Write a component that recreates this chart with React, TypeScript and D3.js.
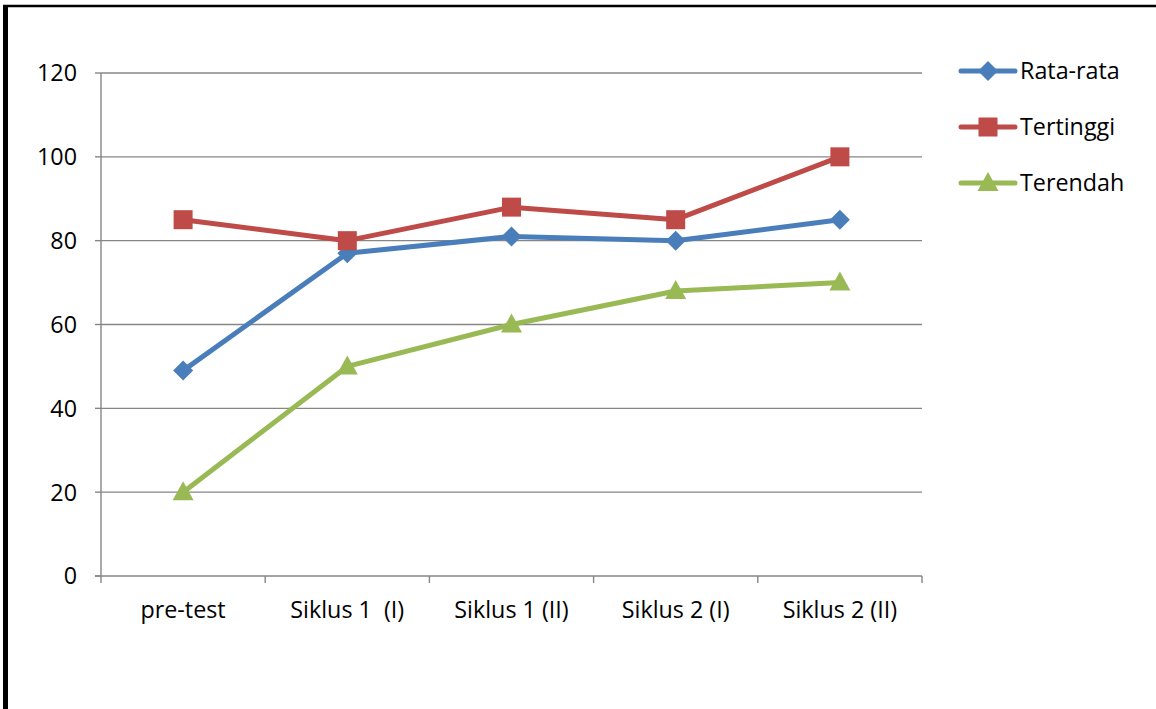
import * as d3 from 'd3';
import { useEffect, useRef } from 'react';

const categories = ['pre-test', 'Siklus 1  (I)', 'Siklus 1 (II)', 'Siklus 2 (I)', 'Siklus 2 (II)'];
const rataRata = [49, 77, 81, 80, 85];
const tertinggi = [85, 80, 88, 85, 100];
const terendah = [20, 50, 60, 68, 70];
const yTicks = [0, 20, 40, 60, 80, 100, 120];

const series = [
  { name: 'Rata-rata', values: rataRata, color: '#4A7EBB', marker: 'diamond' },
  { name: 'Tertinggi', values: tertinggi, color: '#BE4B48', marker: 'square' },
  { name: 'Terendah', values: terendah, color: '#98B954', marker: 'triangle' },
];

const W = 1156;
const H = 709;
const FONT = '"Open Sans", sans-serif';
const FS = 23.3;

function drawMarker(g: d3.Selection<SVGGElement, unknown, null, undefined>, kind: string, x: number, y: number, color: string) {
  if (kind === 'diamond') {
    g.append('path')
      .attr('d', `M${x},${y - 10}L${x + 10},${y}L${x},${y + 10}L${x - 10},${y}Z`)
      .attr('fill', color);
  } else if (kind === 'square') {
    g.append('rect')
      .attr('x', x - 9.5)
      .attr('y', y - 9.5)
      .attr('width', 19)
      .attr('height', 19)
      .attr('fill', color);
  } else {
    g.append('path')
      .attr('d', `M${x},${y - 11}L${x + 10.5},${y + 8}L${x - 10.5},${y + 8}Z`)
      .attr('fill', color);
  }
}

export default function App() {
  const svgRef = useRef<SVGSVGElement>(null);

  useEffect(() => {
    if (!svgRef.current) return;
    const svg = d3.select(svgRef.current);
    svg.selectAll('*').remove();

    const plot = { left: 101, right: 922, top: 73, bottom: 576 };

    const x = d3
      .scaleBand<string>()
      .domain(categories)
      .range([plot.left, plot.right]);
    const y = d3.scaleLinear().domain([0, 120]).range([plot.bottom, plot.top]);

    // frame (top and left edges only)
    svg.append('line')
      .attr('x1', 3).attr('x2', W).attr('y1', 6).attr('y2', 6)
      .attr('stroke', '#000').attr('stroke-width', 2.5);
    svg.append('line')
      .attr('x1', 5.5).attr('x2', 5.5).attr('y1', 5).attr('y2', H)
      .attr('stroke', '#000').attr('stroke-width', 5);

    const g = svg.append('g');

    // grid lines
    g.selectAll('.grid')
      .data(yTicks.filter((t) => t > 0))
      .join('line')
      .attr('x1', plot.left)
      .attr('x2', plot.right)
      .attr('y1', (d) => y(d))
      .attr('y2', (d) => y(d))
      .attr('stroke', '#868686')
      .attr('stroke-width', 1.4);

    // y axis
    g.append('line')
      .attr('x1', plot.left).attr('x2', plot.left)
      .attr('y1', plot.top).attr('y2', plot.bottom)
      .attr('stroke', '#868686').attr('stroke-width', 1.4);
    g.selectAll('.ytick')
      .data(yTicks)
      .join('line')
      .attr('x1', plot.left - 6)
      .attr('x2', plot.left)
      .attr('y1', (d) => y(d))
      .attr('y2', (d) => y(d))
      .attr('stroke', '#868686')
      .attr('stroke-width', 1.4);
    g.selectAll('.ylabel')
      .data(yTicks)
      .join('text')
      .attr('x', 77)
      .attr('y', (d) => y(d))
      .attr('dy', '0.36em')
      .attr('text-anchor', 'end')
      .attr('font-family', FONT)
      .attr('font-size', FS)
      .attr('fill', '#000')
      .text((d) => d);

    // x axis
    g.append('line')
      .attr('x1', plot.left - 6).attr('x2', plot.right)
      .attr('y1', plot.bottom).attr('y2', plot.bottom)
      .attr('stroke', '#868686').attr('stroke-width', 1.4);
    const edges = categories.map((c) => x(c) as number).concat([plot.right]);
    g.selectAll('.xtick')
      .data(edges)
      .join('line')
      .attr('x1', (d) => d)
      .attr('x2', (d) => d)
      .attr('y1', plot.bottom)
      .attr('y2', plot.bottom + 7)
      .attr('stroke', '#868686')
      .attr('stroke-width', 1.4);
    g.selectAll('.xlabel')
      .data(categories)
      .join('text')
      .attr('x', (d) => (x(d) as number) + x.bandwidth() / 2)
      .attr('y', 618)
      .attr('text-anchor', 'middle')
      .attr('font-family', FONT)
      .attr('font-size', FS)
      .attr('fill', '#000')
      .style('white-space', 'pre')
      .text((d) => d);

    const cx = (i: number) => (x(categories[i]) as number) + x.bandwidth() / 2;

    // series
    series.forEach((s) => {
      const line = d3
        .line<number>()
        .x((_, i) => cx(i))
        .y((d) => y(d));
      g.append('path')
        .datum(s.values)
        .attr('fill', 'none')
        .attr('stroke', s.color)
        .attr('stroke-width', 5)
        .attr('stroke-linejoin', 'round')
        .attr('d', line);
    });
    series.forEach((s) => {
      s.values.forEach((v, i) => drawMarker(g, s.marker, cx(i), y(v), s.color));
    });

    // legend
    const legendY = [71, 127, 183];
    series.forEach((s, i) => {
      const ly = legendY[i];
      g.append('line')
        .attr('x1', 961).attr('x2', 1015)
        .attr('y1', ly).attr('y2', ly)
        .attr('stroke', s.color)
        .attr('stroke-width', 5)
        .attr('stroke-linecap', 'round');
      drawMarker(g, s.marker, 988, ly, s.color);
      g.append('text')
        .attr('x', 1020)
        .attr('y', ly)
        .attr('dy', '0.36em')
        .attr('font-family', FONT)
        .attr('font-size', FS)
        .attr('fill', '#000')
        .text(s.name);
    });
  }, []);

  return (
    <svg
      ref={svgRef}
      width={W}
      height={H}
      style={{ position: 'absolute', left: 0, top: 0, background: '#fff' }}
    />
  );
}
